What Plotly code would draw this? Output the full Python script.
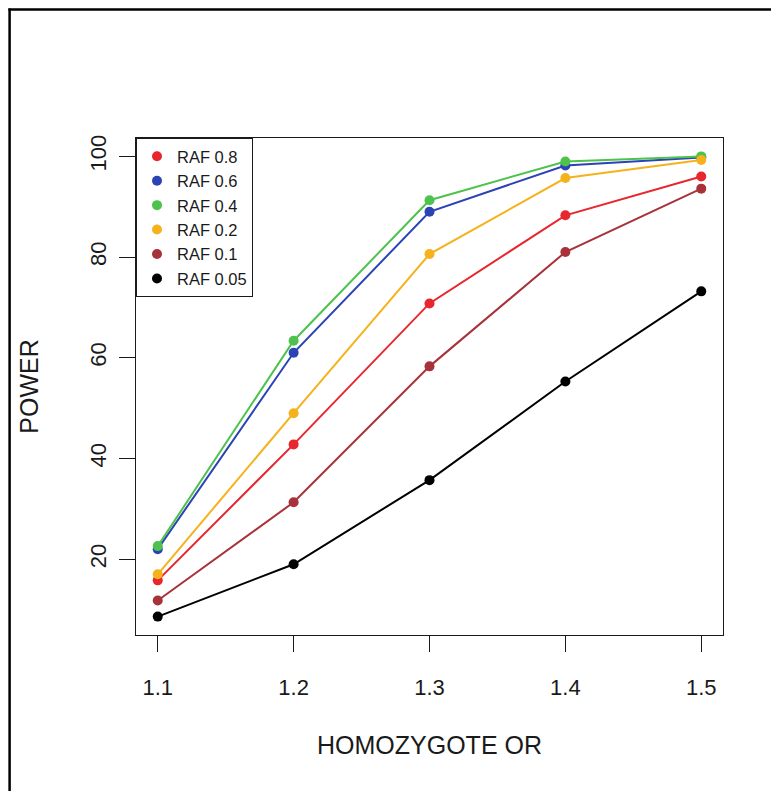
import plotly.graph_objects as go

# ---- data ----
odds_ratio = [1.1, 1.2, 1.3, 1.4, 1.5]
series_names = ["RAF 0.8", "RAF 0.6", "RAF 0.4", "RAF 0.2", "RAF 0.1", "RAF 0.05"]
power_raf_08 = [15.8, 42.8, 70.8, 88.3, 96.0]
power_raf_06 = [22.0, 61.0, 89.0, 98.2, 99.8]
power_raf_04 = [22.6, 63.4, 91.3, 99.0, 100.0]
power_raf_02 = [17.0, 49.0, 80.6, 95.7, 99.3]
power_raf_01 = [11.8, 31.3, 58.3, 81.0, 93.6]
power_raf_005 = [8.6, 19.0, 35.7, 55.3, 73.2]
x_tick_vals = [1.1, 1.2, 1.3, 1.4, 1.5]
x_tick_text = ["1.1", "1.2", "1.3", "1.4", "1.5"]
y_tick_vals = [20, 40, 60, 80, 100]
y_tick_text = ["20", "40", "60", "80", "100"]

series_values = [power_raf_08, power_raf_06, power_raf_04,
                 power_raf_02, power_raf_01, power_raf_005]
colors = ["#E8262E", "#2B43B5", "#4DC24D", "#F5B21C", "#A8323A", "#000000"]

FONT = "Liberation Sans, Arial, Helvetica, sans-serif"
INK = "#1a1a1a"

# page body has an 8px margin, so the figure is drawn 8px in from the window edge
OFF = 8
W, H = 779 - OFF, 791 - OFF
ML, MT = 136 - OFF, 138 - OFF
PW, PH = 587, 497
MR, MB = W - ML - PW, H - MT - PH

fig = go.Figure()
for name, vals, col in zip(series_names, series_values, colors):
    fig.add_trace(go.Scatter(
        x=odds_ratio, y=vals, mode="lines",
        line=dict(color=col, width=2),
        showlegend=False, hoverinfo="skip"))
    fig.add_trace(go.Scatter(
        x=odds_ratio, y=vals, mode="markers", name=name,
        marker=dict(color=col, size=10, line=dict(width=0))))

# R-style 4% axis expansion
def expand(lo, hi):
    d = (hi - lo) * 0.04
    return [lo - d, hi + d]

all_y = [v for s in series_values for v in s]
xr = expand(min(odds_ratio), max(odds_ratio))
yr = expand(min(all_y), max(all_y))

fig.update_layout(
    width=W, height=H, autosize=False,
    margin=dict(l=ML, r=MR, t=MT, b=MB, pad=0),
    paper_bgcolor="white", plot_bgcolor="white",
    font=dict(family=FONT, color=INK),
    legend=dict(
        x=0, y=1, xanchor="left", yanchor="top",
        bordercolor=INK, borderwidth=1, bgcolor="white",
        font=dict(size=16.5, family=FONT, color=INK),
    ),
    xaxis=dict(
        range=xr, tickvals=x_tick_vals, ticktext=x_tick_text,
        ticks="outside", ticklen=16, tickwidth=1, tickcolor=INK,
        showline=True, mirror=True, linecolor=INK, linewidth=1,
        showgrid=False, zeroline=False,
        tickfont=dict(size=22), ticklabelstandoff=17,
        title=dict(text="HOMOZYGOTE OR", font=dict(size=25), standoff=37),
    ),
    yaxis=dict(
        range=yr, tickvals=y_tick_vals, ticktext=y_tick_text,
        ticks="outside", ticklen=16, tickwidth=1, tickcolor=INK,
        showline=True, mirror=True, linecolor=INK, linewidth=1,
        showgrid=False, zeroline=False, tickangle=-90,
        tickfont=dict(size=22), ticklabelstandoff=4,
        title=dict(text="POWER", font=dict(size=25), standoff=40),
    ),
)

# outer frame (left and top edges visible in the reference), kept inside the figure
EDGE = 1.6  # figure pixels from the figure's own left/top edge

def fx(px):
    return (px - ML) / PW

def fy(py):
    return (MT + PH - py) / PH

fig.add_shape(type="line", xref="paper", yref="paper",
              x0=fx(EDGE), x1=fx(EDGE), y0=fy(EDGE - 1.2), y1=fy(H + 20),
              line=dict(color="black", width=2.5))
fig.add_shape(type="line", xref="paper", yref="paper",
              x0=fx(EDGE - 1.2), x1=fx(W + 20), y0=fy(EDGE), y1=fy(EDGE),
              line=dict(color="black", width=2.5))

fig.write_html("out.html")
